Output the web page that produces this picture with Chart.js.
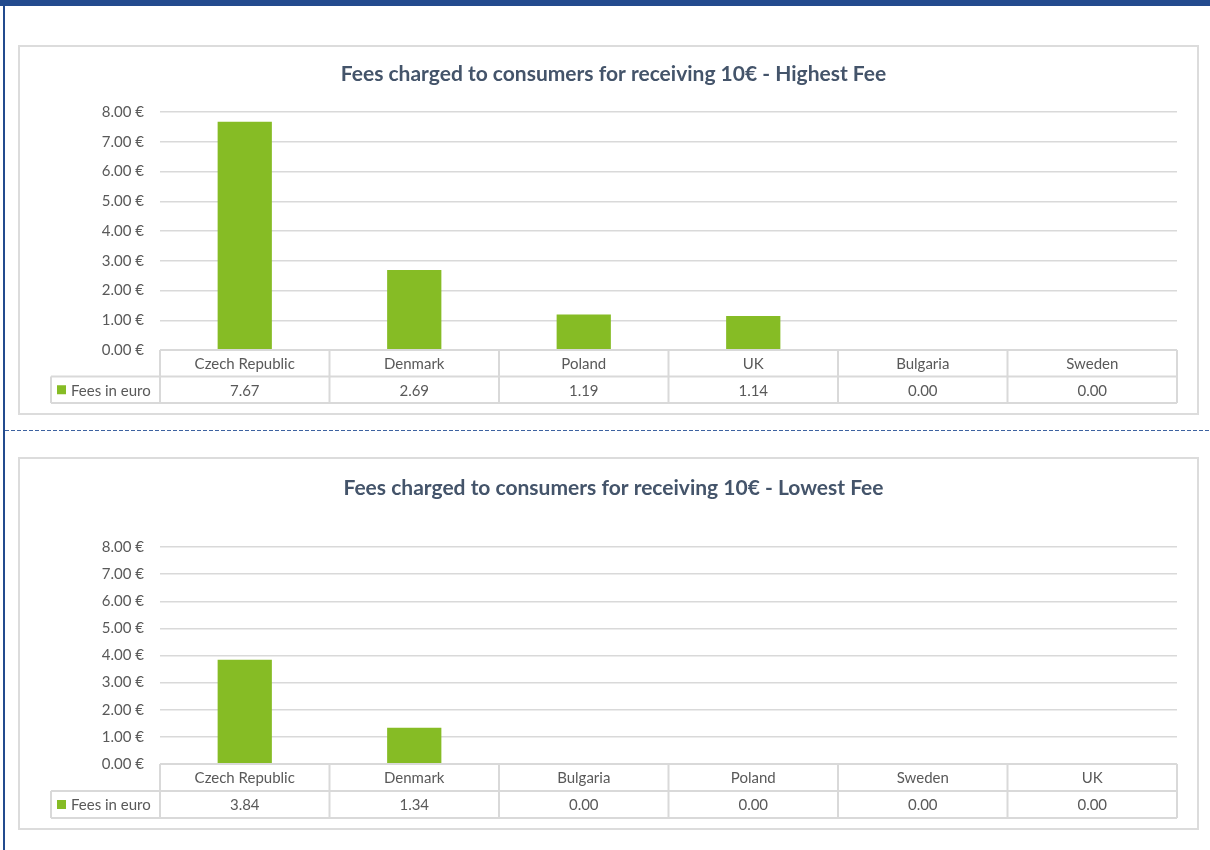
<!DOCTYPE html>
<html>
<head>
<meta charset="utf-8">
<script src="https://cdn.jsdelivr.net/npm/chart.js@4.4.1/dist/chart.umd.min.js"></script>
<style>
  html, body { margin: 0; padding: 0; background: #fff; }
  body { width: 1210px; height: 850px; position: relative; overflow: hidden; font-family: Lato, "Open Sans", sans-serif; }
  .topbar { position: absolute; left: 0; top: 0; width: 1210px; height: 6px; background: #234b8e; }
  .leftline { position: absolute; left: 3px; top: 0; width: 2px; height: 850px; background: #234b8e; }
  .dashed { position: absolute; left: 5px; top: 430px; width: 1205px; height: 1px;
    background: repeating-linear-gradient(to right, #3d62a0 0 4px, transparent 4px 6px); }
  .panel { position: absolute; left: 18px; width: 1177px; border: 2px solid #dcdcdc; }
  canvas { position: absolute; left: 0; }
</style>
</head>
<body>
<div class="topbar"></div>
<div class="leftline"></div>
<div class="dashed"></div>
<div class="panel" style="top:45px;height:366px"></div>
<div class="panel" style="top:457px;height:369px"></div>
<canvas id="chart-high" width="1210" height="430" style="top:0"></canvas>
<canvas id="chart-low" width="1210" height="410" style="top:440px"></canvas>
<script>
const highLabels = ['Czech Republic', 'Denmark', 'Poland', 'UK', 'Bulgaria', 'Sweden'];
const highFees = [7.67, 2.69, 1.19, 1.14, 0.00, 0.00];
const lowLabels = ['Czech Republic', 'Denmark', 'Bulgaria', 'Poland', 'Sweden', 'UK'];
const lowFees = [3.84, 1.34, 0.00, 0.00, 0.00, 0.00];
const yTicks = [0, 1, 2, 3, 4, 5, 6, 7, 8];
const seriesName = 'Fees in euro';

const GREEN = '#86bc25';
const LINE = '#d9d9d9';
const TEXT = '#595959';
const FONT = 'Lato, "Open Sans", sans-serif';

// data table under the plot: category row, then values row with legend key
const dataTable = {
  id: 'dataTable',
  afterDraw(chart, args, opts) {
    const ctx = chart.ctx;
    const xs = chart.scales.x;
    const { left, right, bottom } = chart.chartArea;
    const labels = chart.data.labels;
    const values = chart.data.datasets[0].data;
    const n = labels.length;
    const colW = (right - left) / n;
    const rowH = opts.rowHeight;
    const r1 = bottom + rowH, r2 = bottom + rowH * 2;
    const legLeft = 51;

    ctx.save();
    ctx.strokeStyle = LINE;
    ctx.lineWidth = 2;
    ctx.beginPath();
    ctx.moveTo(left, bottom); ctx.lineTo(right, bottom);
    ctx.moveTo(legLeft, r1); ctx.lineTo(right, r1);
    ctx.moveTo(legLeft, r2); ctx.lineTo(right, r2);
    ctx.moveTo(legLeft, r1); ctx.lineTo(legLeft, r2);
    for (let i = 0; i <= n; i++) {
      const x = left + colW * i;
      ctx.moveTo(x, bottom); ctx.lineTo(x, r2);
    }
    ctx.stroke();

    ctx.fillStyle = TEXT;
    ctx.font = '15px ' + FONT;
    ctx.textAlign = 'center';
    ctx.textBaseline = 'middle';
    labels.forEach((lab, i) => {
      const cx = xs.getPixelForValue(i);
      ctx.fillText(lab, cx, bottom + rowH / 2 + 1);
      ctx.fillText(values[i].toFixed(2), cx, r1 + rowH / 2 + 1);
    });

    ctx.fillStyle = GREEN;
    ctx.fillRect(57, r1 + rowH / 2 - 4.5, 9, 9);
    ctx.fillStyle = TEXT;
    ctx.textAlign = 'left';
    ctx.fillText(seriesName, 71, r1 + rowH / 2 + 1);
    ctx.restore();
  }
};

function makeChart(id, labels, values, title, pad, titleTop, titleBottom, rowHeight) {
  const ctx = document.getElementById(id).getContext('2d');
  return new Chart(ctx, {
    type: 'bar',
    data: {
      labels: labels,
      datasets: [{
        label: seriesName,
        data: values,
        backgroundColor: GREEN,
        barPercentage: 0.32,
        categoryPercentage: 1
      }]
    },
    options: {
      responsive: false,
      animation: false,
      layout: { padding: pad },
      plugins: {
        legend: { display: false },
        tooltip: { enabled: false },
        title: {
          display: true,
          text: title,
          color: '#44546a',
          font: { family: FONT, size: 21, weight: 'bold', lineHeight: 1.2 },
          padding: { top: titleTop, bottom: titleBottom }
        },
        dataTable: { rowHeight: rowHeight }
      },
      scales: {
        x: { display: false },
        y: {
          min: yTicks[0],
          max: yTicks[yTicks.length - 1],
          afterFit: s => { s.width = 110; },
          afterBuildTicks: s => { s.ticks = yTicks.map(v => ({ value: v })); },
          border: { display: false },
          grid: { color: LINE, lineWidth: 1.5, drawTicks: false },
          ticks: {
            padding: 16,
            color: TEXT,
            font: { family: FONT, size: 15 },
            callback: v => v.toFixed(2) + ' €'
          }
        }
      }
    },
    plugins: [dataTable]
  });
}

// title box height = 21 * 1.2 = 25.2; centre lands at pad.top + titleTop + 12.6
makeChart('chart-high', highLabels, highFees,
  'Fees charged to consumers for receiving 10€ - Highest Fee',
  { left: 50, right: 33, top: 10, bottom: 80 }, 51.4, 25.4, 26.5);

makeChart('chart-low', lowLabels, lowFees,
  'Fees charged to consumers for receiving 10€ - Lowest Fee',
  { left: 50, right: 33, top: 10, bottom: 86 }, 25.4, 46.4, 27);
</script>
</body>
</html>
